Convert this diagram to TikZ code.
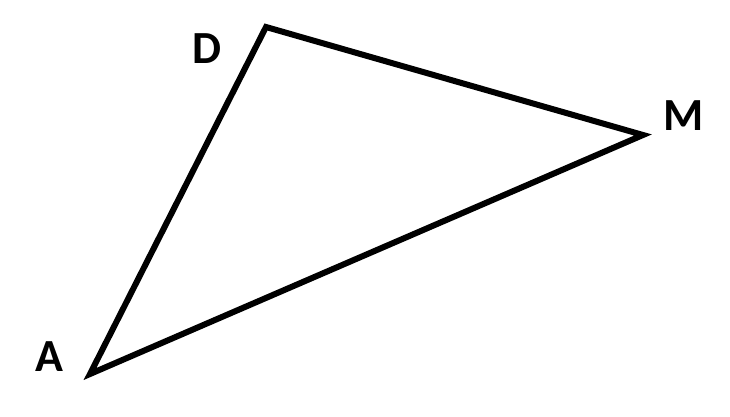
\documentclass[tikz,border=0pt]{standalone}
\usepackage{fontspec}
\setmainfont{Carlito}
\tikzset{vlabel/.style={font=\fontsize{46}{50}\selectfont\bfseries, inner sep=0pt}}
\begin{document}
\begin{tikzpicture}[x=1pt,y=1pt]
\useasboundingbox (0,0) rectangle (730,417);
\coordinate (D) at (266,390);
\coordinate (M) at (643,282);
\coordinate (A) at (90,43);
\draw[line width=6pt, line join=miter, miter limit=10] (A) -- (D) -- (M) -- cycle;
\node[vlabel] (lD) at (207,368) {D};
\node[vlabel] (lM) at (684,301) {M};
\node[vlabel] (lA) at (49,60) {A};
\end{tikzpicture}
\end{document}
